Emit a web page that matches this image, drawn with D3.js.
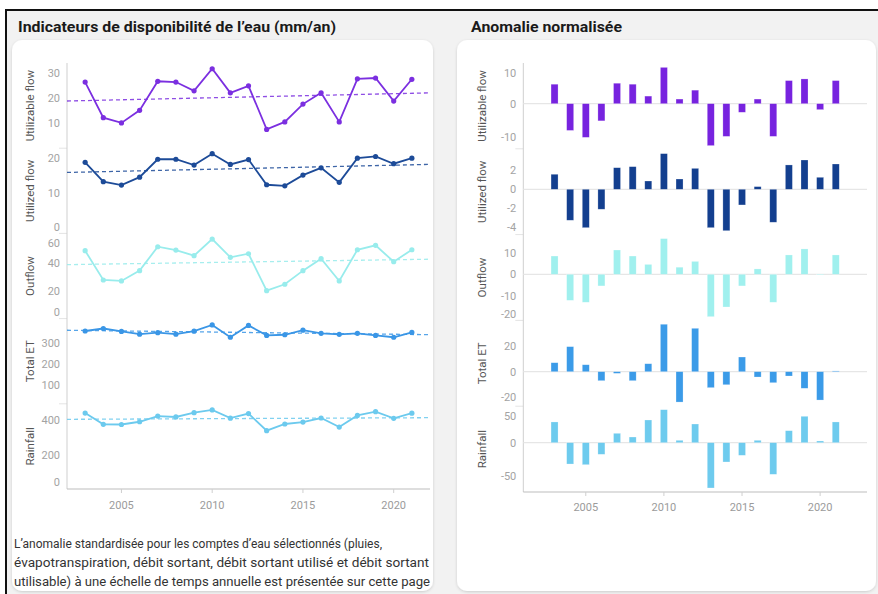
<html>
<head>
<meta charset="utf-8">
<title>Disponibilité de l'eau</title>
<script src="https://d3js.org/d3.v7.min.js"></script>
<style>
body { margin: 0; background: #fff; }
svg { display: block; font-family: Roboto, "Noto Sans", sans-serif; }
</style>
</head>
<body>
<svg width="878" height="594"></svg>
<script>

// ---- data ----
var years = [2003, 2004, 2005, 2006, 2007, 2008, 2009, 2010, 2011, 2012, 2013, 2014, 2015, 2016, 2017, 2018, 2019, 2020, 2021];

var seriesNames = ["Utilizable flow", "Utilized flow", "Outflow", "Total ET", "Rainfall"];

// mm/an
var utilizableFlow = [26.4, 12.2, 10.1, 15.1, 26.7, 26.4, 22.9, 31.7, 22.1, 24.9, 7.5, 10.5, 17.6, 22.1, 10.5, 27.7, 28.0, 18.8, 27.5];
var utilizedFlow   = [18.9, 13.3, 12.3, 14.6, 19.8, 19.8, 18.1, 21.4, 18.3, 19.7, 12.4, 12.1, 15.2, 17.3, 13.1, 20.1, 20.6, 18.5, 20.1];
var outflow        = [49.4, 28.1, 27.4, 34.9, 52.3, 49.9, 45.8, 57.9, 44.6, 47.2, 20.3, 25.0, 34.9, 43.6, 27.4, 50.1, 53.3, 41.4, 50.1];
var totalET        = [359, 371, 357, 344, 351, 344, 358, 388, 329, 386, 338, 341, 363, 348, 343, 348, 338, 329, 352];
var rainfall       = [444, 378, 377, 393, 426, 421, 446, 462, 414, 441, 341, 380, 391, 415, 362, 430, 452, 413, 443];

// anomalie normalisée
var anomUtilizable = [5.9, -8.1, -10.2, -5.2, 6.2, 5.9, 2.3, 11.0, 1.4, 4.1, -12.7, -9.9, -2.6, 1.4, -9.9, 7.0, 7.5, -1.8, 7.0];
var anomUtilized   = [1.58, -3.26, -4.04, -2.1, 2.27, 2.38, 0.87, 3.75, 1.08, 2.2, -4.04, -4.36, -1.65, 0.28, -3.47, 2.56, 3.08, 1.26, 2.66];
var anomOutflow    = [8.5, -12.1, -13.0, -5.4, 11.3, 8.5, 4.6, 16.6, 3.3, 6.0, -19.7, -15.2, -5.4, 2.5, -13.0, 9.0, 11.8, -0.3, 9.0];
var anomTotalET    = [7.1, 19.8, 5.5, -7.1, -1.3, -7.1, 6.3, 37.5, -24.0, 34.3, -12.6, -10.3, 11.6, -4.2, -8.7, -3.4, -13.1, -22.4, 0.6];
var anomRainfall   = [31.4, -32.3, -33.3, -17.6, 14.2, 8.6, 34.4, 50.0, 3.6, 28.3, -68.6, -29.2, -19.1, 3.6, -47.9, 18.2, 40.0, 2.6, 31.4];

// axis ticks
var leftTicks  = [[10, 20, 30], [0, 10, 20], [0, 20, 40, 60], [100, 200, 300], [0, 200, 400]];
var rightTicks = [[-10, 0, 10], [-4, -2, 0, 2], [-20, -10, 0, 10], [-20, 0, 20], [-50, 0, 50]];
var xTicks = [2005, 2010, 2015, 2020];

var leftDomains  = [[0, 34], [-1.7, 23], [0, 62], [9.8, 418.5], [0, 498]];
var rightDomains = [[-13.67, 12.33], [-4.77, 4.26], [-21.44, 18.47], [-27.27, 40.55], [-74.7, 55.3]];

var lineColors = ["#7b2fe0", "#1d4b98", "#98ecec", "#3a96e6", "#6ccaee"];
var barColors  = ["#7723df", "#133f8f", "#a0f0ee", "#3b9be8", "#6ecbee"];

var lineValues = [utilizableFlow, utilizedFlow, outflow, totalET, rainfall];
var anomValues = [anomUtilizable, anomUtilized, anomOutflow, anomTotalET, anomRainfall];

var series = seriesNames.map(function (name, i) {
	return {
		name: name,
		line: lineValues[i],
		anom: anomValues[i],
		lineColor: lineColors[i],
		barColor: barColors[i],
		leftDomain: leftDomains[i],
		rightDomain: rightDomains[i],
		leftTicks: leftTicks[i],
		rightTicks: rightTicks[i]
	};
});

var paragraph = [
	"L\u2019anomalie standardisée pour les comptes d\u2019eau sélectionnés (pluies,",
	"évapotranspiration, débit sortant, débit sortant utilisé et débit sortant",
	"utilisable) à une échelle de temps annuelle est présentée sur cette page"
];
var paragraphWidths = [368, 415, 416];

// ---- page frame ----
var svg = d3.select("svg");

var filter = svg.append("defs").append("filter").attr("id", "shadow")
	.attr("x", "-5%").attr("y", "-5%").attr("width", "110%").attr("height", "110%");
filter.append("feDropShadow").attr("dx", 0).attr("dy", 1).attr("stdDeviation", 1.8)
	.attr("flood-color", "#000").attr("flood-opacity", 0.16);

svg.append("rect").attr("x", 6).attr("y", 10).attr("width", 872).attr("height", 584).attr("fill", "#f2f2f2");
svg.append("rect").attr("x", 5).attr("y", 9).attr("width", 873).attr("height", 2).attr("fill", "#111");
svg.append("rect").attr("x", 5).attr("y", 9).attr("width", 2).attr("height", 585).attr("fill", "#111");

svg.append("rect").attr("x", 12).attr("y", 40).attr("width", 421).attr("height", 551).attr("rx", 10)
	.attr("fill", "#fff").attr("filter", "url(#shadow)");
svg.append("rect").attr("x", 457).attr("y", 40).attr("width", 419).attr("height", 551).attr("rx", 10)
	.attr("fill", "#fff").attr("filter", "url(#shadow)");

svg.append("text").attr("x", 18).attr("y", 32).attr("font-size", 15).attr("font-weight", "bold")
	.attr("fill", "#1a1a1a").attr("textLength", 318).attr("lengthAdjust", "spacingAndGlyphs")
	.text("Indicateurs de disponibilité de l\u2019eau (mm/an)");
svg.append("text").attr("x", 471).attr("y", 32).attr("font-size", 15).attr("font-weight", "bold")
	.attr("fill", "#1a1a1a").attr("textLength", 151).attr("lengthAdjust", "spacingAndGlyphs")
	.text("Anomalie normalisée");

svg.selectAll("text.note").data(paragraph).enter().append("text").attr("class", "note")
	.attr("x", 14).attr("y", function (d, i) { return 548 + i * 19; })
	.attr("font-size", 12.5).attr("fill", "#333")
	.attr("textLength", function (d, i) { return paragraphWidths[i]; })
	.attr("lengthAdjust", "spacingAndGlyphs")
	.text(function (d) { return d; });

// ---- helpers ----
function linearFit(xs, ys) {
	var n = xs.length, mx = d3.mean(xs), my = d3.mean(ys), sxy = 0, sxx = 0;
	for (var i = 0; i < n; i++) {
		sxy += (xs[i] - mx) * (ys[i] - my);
		sxx += (xs[i] - mx) * (xs[i] - mx);
	}
	var b = sxy / sxx;
	return function (x) { return my + b * (x - mx); };
}

function drawFrame(g, x, axisX, top, bottom, yearTickY) {
	var paneH = (bottom - top) / 5;
	// pane separators
	for (var i = 1; i < 5; i++) {
		g.append("line").attr("x1", axisX - 8).attr("x2", axisX).attr("y1", top + i * paneH).attr("y2", top + i * paneH)
			.attr("stroke", "#e4e4e4");
	}
	g.append("line").attr("x1", axisX).attr("x2", axisX).attr("y1", top).attr("y2", bottom)
		.attr("stroke", "#cfcfcf");
	g.append("line").attr("x1", axisX).attr("x2", x.range()[1]).attr("y1", bottom).attr("y2", bottom)
		.attr("stroke", "#bdbdbd");
	g.selectAll("line.xtick").data(xTicks).enter().append("line").attr("class", "xtick")
		.attr("x1", x).attr("x2", x).attr("y1", bottom).attr("y2", bottom + 4).attr("stroke", "#cfcfcf");
	g.selectAll("text.xlabel").data(xTicks).enter().append("text").attr("class", "xlabel")
		.attr("x", x).attr("y", yearTickY).attr("text-anchor", "middle").attr("dy", "0.35em")
		.attr("font-size", 11).attr("fill", "#9b9b9b").text(function (d) { return d; });
	return paneH;
}

function drawYAxis(g, y, ticks, axisX, top, bottom, name, titleX) {
	g.selectAll("text.ylabel").data(ticks).enter().append("text").attr("class", "ylabel")
		.attr("x", axisX - 7)
		.attr("y", function (d) { return Math.max(top + 10, Math.min(bottom - 6.5, y(d))); })
		.attr("dy", "0.35em").attr("text-anchor", "end")
		.attr("font-size", 11).attr("fill", "#a3a3a3")
		.text(function (d) { return d; });
	var cy = (top + bottom) / 2;
	g.append("text").attr("transform", "translate(" + titleX + "," + cy + ") rotate(-90)")
		.attr("text-anchor", "middle").attr("dy", "0.35em")
		.attr("font-size", 11.5).attr("fill", "#555").text(name);
}

// ---- left chart: lines + trend ----
var leftX = d3.scaleLinear().domain([2002, 2022]).range([67, 430]);
var leftTop = 63, leftBottom = 489;
var gLeft = svg.append("g");
var leftPaneH = drawFrame(gLeft, leftX, 67, leftTop, leftBottom, 505);

series.forEach(function (s, i) {
	var top = leftTop + i * leftPaneH, bot = top + leftPaneH;
	var pane = gLeft.append("g");
	var y = d3.scaleLinear().domain(s.leftDomain).range([bot, top]);
	drawYAxis(pane, y, s.leftTicks, 67, top, bot, s.name, 29.5);

	var fit = linearFit(years, s.line);
	pane.append("line")
		.attr("x1", leftX(2002)).attr("x2", leftX(2022))
		.attr("y1", y(fit(2002))).attr("y2", y(fit(2022)))
		.attr("stroke", s.lineColor).attr("stroke-width", 1.3).attr("stroke-dasharray", "4,3").attr("opacity", 0.85);

	var pts = years.map(function (yr, k) { return [yr, s.line[k]]; });
	var line = d3.line().x(function (d) { return leftX(d[0]); }).y(function (d) { return y(d[1]); });
	pane.append("path").datum(pts).attr("d", line)
		.attr("fill", "none").attr("stroke", s.lineColor).attr("stroke-width", 1.8);
	pane.selectAll("circle").data(pts).enter().append("circle")
		.attr("cx", function (d) { return leftX(d[0]); })
		.attr("cy", function (d) { return y(d[1]); })
		.attr("r", 2.6).attr("fill", s.lineColor);
});

// ---- right chart: anomaly bars ----
var rightX = d3.scaleLinear().domain([2001, 2023]).range([523.3, 867]);
var rightTop = 63, rightBottom = 492;
var gRight = svg.append("g");
var rightPaneH = drawFrame(gRight, rightX, 523.3, rightTop, rightBottom, 507);

series.forEach(function (s, i) {
	var top = rightTop + i * rightPaneH, bot = top + rightPaneH;
	var pane = gRight.append("g");
	var y = d3.scaleLinear().domain(s.rightDomain).range([bot, top]);
	drawYAxis(pane, y, s.rightTicks, 523.3, top, bot, s.name, 482);

	pane.append("line").attr("x1", 523.3).attr("x2", 867).attr("y1", y(0)).attr("y2", y(0))
		.attr("stroke", "#e6e6e6").attr("stroke-width", 1.2);

	var bars = years.map(function (yr, k) { return [yr, s.anom[k]]; });
	pane.selectAll("rect").data(bars).enter().append("rect")
		.attr("x", function (d) { return rightX(d[0]) - 3.5; })
		.attr("width", 7)
		.attr("y", function (d) { return Math.min(y(d[1]), y(0)); })
		.attr("height", function (d) { return Math.abs(y(d[1]) - y(0)); })
		.attr("fill", s.barColor)
		.attr("stroke", "#fff").attr("stroke-opacity", 0.4).attr("stroke-width", 0.6);
});

</script>
</body>
</html>
